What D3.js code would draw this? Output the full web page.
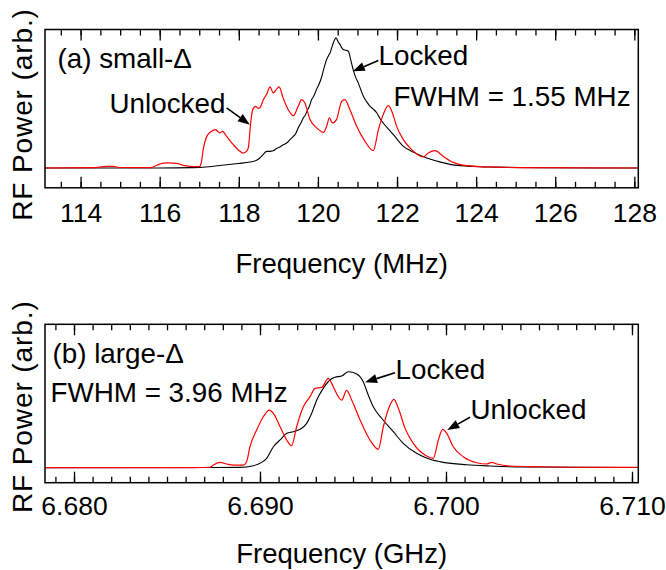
<!DOCTYPE html>
<html>
<head>
<meta charset="utf-8">
<script src="https://cdn.jsdelivr.net/npm/d3@7"></script>
<style>
  html, body { margin: 0; padding: 0; background: #fff; }
  svg { display: block; font-family: "Liberation Sans", Arial, sans-serif; }
</style>
</head>
<body>
<svg id="chart" width="666" height="570"></svg>
<script>
// ---- (a) small detuning: RF spectrum around 120 MHz ----
const freqLockedA = [113.1,114.5,116.0,116.8,117.02,117.4,117.69,118.0,118.28,118.45,118.53,118.62,118.70,118.78,118.87,118.95,119.04,119.12,119.21,119.30,119.38,119.44,119.50,119.57,119.63,119.68,119.72,119.78,119.84,119.90,119.97,120.03,120.10,120.16,120.22,120.27,120.31,120.35,120.39,120.46,120.51,120.56,120.60,120.64,120.70,120.77,120.83,120.89,120.95,121.02,121.08,121.15,121.23,121.32,121.40,121.49,121.57,121.65,121.78,121.91,122.03,122.16,122.33,122.50,122.66,122.83,123.10,123.34,123.60,123.93,124.30,124.77,125.50,128.1];
const powerLockedA = [0,0,0,0.003,0.005,0.015,0.025,0.035,0.046,0.06,0.077,0.105,0.128,0.128,0.132,0.15,0.162,0.178,0.192,0.22,0.243,0.265,0.308,0.345,0.385,0.405,0.435,0.47,0.525,0.555,0.608,0.645,0.705,0.775,0.833,0.865,0.885,0.925,0.962,1.0,0.97,0.948,0.925,0.91,0.905,0.897,0.83,0.755,0.70,0.654,0.605,0.551,0.51,0.474,0.452,0.423,0.38,0.346,0.30,0.256,0.21,0.166,0.135,0.11,0.088,0.069,0.045,0.028,0.018,0.012,0.008,0.005,0.002,0];
const freqUnlockedA = [113.1,114.3,114.66,114.82,115.0,115.75,116.0,116.1,116.21,116.43,116.6,116.76,117.0,117.05,117.10,117.19,117.31,117.41,117.47,117.52,117.59,117.69,117.86,118.03,118.11,118.20,118.24,118.30,118.35,118.43,118.48,118.53,118.62,118.70,118.79,118.87,118.96,119.02,119.12,119.25,119.38,119.50,119.59,119.67,119.80,119.97,120.14,120.22,120.29,120.37,120.47,120.60,120.68,120.81,120.98,121.19,121.40,121.53,121.65,121.78,121.87,121.99,122.16,122.37,122.66,122.79,122.96,123.17,123.42,123.76,124.35,125.11,128.1];
const powerUnlockedA = [0,0.003,0.012,0.012,0.004,0.003,0.03,0.038,0.04,0.036,0.02,0.013,0.01,0.04,0.141,0.243,0.282,0.295,0.28,0.269,0.282,0.243,0.179,0.128,0.115,0.13,0.154,0.346,0.448,0.474,0.46,0.462,0.525,0.564,0.623,0.577,0.608,0.623,0.538,0.448,0.402,0.474,0.525,0.50,0.372,0.308,0.274,0.32,0.385,0.346,0.372,0.512,0.525,0.448,0.32,0.205,0.133,0.295,0.41,0.479,0.435,0.32,0.218,0.141,0.085,0.115,0.133,0.089,0.043,0.018,0.008,0.003,0];
const majorTicksA = [114,116,118,120,122,124,126,128];
const minorTicksA = d3.range(113.5, 128.01, 0.5);
const domainA = [113.1, 128.1];
const fwhmA = "FWHM = 1.55 MHz";

// ---- (b) large detuning: RF spectrum around 6.69 GHz ----
const freqLockedB = [6.67844,6.6875,6.68892,6.68964,6.69,6.69036,6.69072,6.69108,6.69144,6.69179,6.69215,6.69251,6.69278,6.69305,6.6934,6.69376,6.69403,6.69439,6.69475,6.6952,6.69555,6.69582,6.69609,6.69654,6.69717,6.6977,6.69842,6.69914,6.69985,6.70111,6.70237,6.70416,6.71034];
const powerLockedB = [0,0.002,0.004,0.021,0.046,0.098,0.219,0.289,0.358,0.375,0.40,0.4625,0.567,0.705,0.827,0.914,0.942,0.955,1.0,0.976,0.896,0.757,0.635,0.515,0.375,0.254,0.15,0.0875,0.056,0.031,0.018,0.007,0.003];
const freqUnlockedB = [6.67844,6.6865,6.68731,6.68749,6.68785,6.68821,6.68856,6.6891,6.68928,6.68946,6.68982,6.69018,6.6905,6.69072,6.69108,6.69144,6.6917,6.69197,6.69233,6.69269,6.69296,6.69332,6.69367,6.69394,6.69421,6.69439,6.69466,6.69493,6.69538,6.69591,6.69636,6.69663,6.69699,6.6972,6.69744,6.6978,6.69824,6.69896,6.69932,6.69959,6.69982,6.70004,6.70039,6.70093,6.70165,6.70219,6.70246,6.70273,6.70344,6.70505,6.70683,6.71034];
const powerUnlockedB = [0,0.002,0.005,0.028,0.056,0.039,0.028,0.028,0.0625,0.219,0.393,0.531,0.601,0.567,0.427,0.289,0.229,0.427,0.635,0.74,0.827,0.8375,0.931,0.844,0.74,0.705,0.806,0.705,0.497,0.289,0.192,0.427,0.653,0.7125,0.619,0.41,0.254,0.122,0.098,0.289,0.40,0.358,0.219,0.115,0.052,0.039,0.056,0.039,0.018,0.01,0.005,0.003];
const majorTicksB = [6.680,6.690,6.700,6.710];
const minorTicksB = d3.range(6.679, 6.7101, 0.001);
const domainB = [6.67844, 6.71034];
const fwhmB = "FWHM = 3.96 MHz";

const svg = d3.select("#chart");
const left = 45, right = 638.3;

function zip(f, p) { return f.map((d, i) => [d, p[i]]); }

function drawArrow(g, x1, y1, x2, y2) {
  const ang = Math.atan2(y2 - y1, x2 - x1);
  const L = 12, hw = 4.5;
  const bx = x2 - L * Math.cos(ang), by = y2 - L * Math.sin(ang);
  g.append("line")
    .attr("x1", x1).attr("y1", y1).attr("x2", bx).attr("y2", by)
    .attr("stroke", "#000").attr("stroke-width", 1.6);
  const px = -Math.sin(ang) * hw, py = Math.cos(ang) * hw;
  g.append("path")
    .attr("d", `M${x2},${y2}L${bx + px},${by + py}L${bx - px},${by - py}Z`)
    .attr("fill", "#000");
}

function panel(cfg) {
  const x = d3.scaleLinear().domain(cfg.domain).range([left, right]);
  const y = d3.scaleLinear().domain(cfg.yDomain).range([cfg.bottom, cfg.top]);
  const g = svg.append("g");

  const line = d3.line().x(d => x(d[0])).y(d => y(d[1])).curve(d3.curveMonotoneX);
  const plot = g.append("g");
  plot.append("path").datum(zip(cfg.fl, cfg.pl))
    .attr("d", line).attr("fill", "none").attr("stroke", "#000").attr("stroke-width", 1.1);
  plot.append("path").datum(zip(cfg.fu, cfg.pu))
    .attr("d", line).attr("fill", "none").attr("stroke", "#ff0000").attr("stroke-width", 1.2);

  // inward ticks on bottom and top edges
  const tickAxes = [
    [d3.axisBottom(x).tickValues(cfg.minor).tickSize(-6).tickFormat(""), cfg.bottom],
    [d3.axisBottom(x).tickValues(cfg.major).tickSize(-11).tickPadding(cfg.pad).tickFormat(cfg.fmt), cfg.bottom],
    [d3.axisTop(x).tickValues(cfg.minor).tickSize(-6).tickFormat(""), cfg.top],
    [d3.axisTop(x).tickValues(cfg.major).tickSize(-11).tickFormat(""), cfg.top]
  ];
  tickAxes.forEach(([ax, yy]) => {
    const a = g.append("g").attr("transform", `translate(0,${yy})`).call(ax.tickSizeOuter(0));
    a.select(".domain").remove();
    a.selectAll(".tick line").attr("stroke", "#000").attr("stroke-width", 1.3);
    a.selectAll(".tick text").attr("font-size", 26.5).attr("fill", "#000")
      .attr("font-family", "Liberation Sans, Arial, sans-serif");
  });

  g.append("rect")
    .attr("x", left).attr("y", cfg.top)
    .attr("width", right - left).attr("height", cfg.bottom - cfg.top)
    .attr("fill", "none").attr("stroke", "#000").attr("stroke-width", 1.5);

  // axis titles
  g.append("text").attr("x", (left + right) / 2).attr("y", cfg.xTitleY)
    .attr("text-anchor", "middle").attr("font-size", 27.5).attr("fill", "#000").text(cfg.xTitle);
  g.append("text").attr("transform", `translate(32,${cfg.yTitleY}) rotate(-90)`)
    .attr("text-anchor", "middle").attr("font-size", 28).attr("letter-spacing", 0.9)
    .attr("fill", "#000").text("RF Power (arb.)");

  // annotations
  cfg.labels.forEach(t => {
    g.append("text").attr("x", left + t.dx).attr("y", cfg.top + t.dy)
      .attr("font-size", 27.8).attr("fill", "#000").text(t.text);
  });
  cfg.arrows.forEach(a => {
    const tx = x(a.f), ty = y(a.v);
    drawArrow(g, tx + a.ox, ty + a.oy, tx, ty);
  });
}

panel({
  domain: domainA, yDomain: [-0.152, 1.064], top: 29.5, bottom: 187.8,
  fl: freqLockedA, pl: powerLockedA, fu: freqUnlockedA, pu: powerUnlockedA,
  major: majorTicksA, minor: minorTicksA, fmt: d3.format("d"), pad: 15.2,
  xTitle: "Frequency (MHz)", xTitleY: 273, yTitleY: 114.5,
  labels: [
    { text: "(a) small-Δ", dx: 12.5, dy: 38.5 },
    { text: "Unlocked", dx: 64.5, dy: 83.5 },
    { text: "Locked", dx: 333.5, dy: 35.5 },
    { text: fwhmA, dx: 348.5, dy: 76.5 }
  ],
  arrows: [
    { f: 118.28, v: 0.333, ox: -23.3, oy: -16.7 },
    { f: 120.88, v: 0.743, ox: 25.6, oy: -10.7 }
  ]
});

panel({
  domain: domainB, yDomain: [-0.156, 1.494], top: 324.3, bottom: 482.7,
  fl: freqLockedB, pl: powerLockedB, fu: freqUnlockedB, pu: powerUnlockedB,
  major: majorTicksB, minor: minorTicksB, fmt: d3.format(".3f"), pad: 13.5,
  xTitle: "Frequency (GHz)", xTitleY: 563, yTitleY: 406.7,
  labels: [
    { text: "(b) large-Δ", dx: 7.5, dy: 38.7 },
    { text: fwhmB, dx: 5.5, dy: 77.4 },
    { text: "Locked", dx: 350.5, dy: 54.7 },
    { text: "Unlocked", dx: 425.5, dy: 95 }
  ],
  arrows: [
    { f: 6.69565, v: 0.89, ox: 30, oy: -9.6 },
    { f: 6.70007, v: 0.393, ox: 22.7, oy: -12.7 }
  ]
});
</script>
</body>
</html>
